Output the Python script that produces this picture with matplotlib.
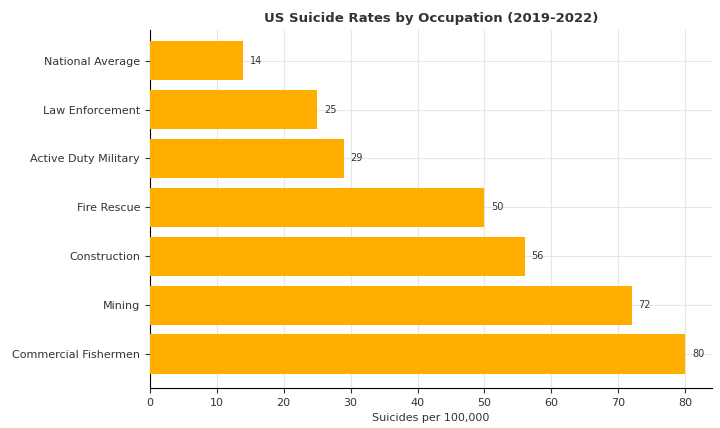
import matplotlib.pyplot as plt

occupations = ["Commercial Fishermen", "Mining", "Construction", "Fire Rescue",
               "Active Duty Military", "Law Enforcement", "National Average"]
rates = [80, 72, 56, 50, 29, 25, 14]

fig = plt.figure(figsize=(7.2, 4.28), dpi=100)
ax = fig.add_axes([0.208, 0.093, 0.781, 0.837])
bars = ax.barh(occupations, rates, color="#FFAE00", height=0.8, zorder=3)
for b, v in zip(bars, rates):
    ax.text(v + 1, b.get_y() + b.get_height() / 2, str(v),
            va="center", ha="left", fontsize=7, color="#333333")
ax.set_xlim(0, 84)
ax.set_ylim(-0.7, 6.63)
ax.set_xticks(range(0, 81, 10))
ax.grid(True, color="#e6e6e6", linewidth=0.8, zorder=0)
ax.set_xlabel("Suicides per 100,000", fontsize=8, color="#333333")
ax.set_title("US Suicide Rates by Occupation (2019-2022)", fontsize=9.5,
             fontweight="bold", color="#333333")
ax.tick_params(labelsize=8, colors="#333333")
for s in ["top", "right"]:
    ax.spines[s].set_visible(False)
fig.savefig("out.png", dpi=100)
